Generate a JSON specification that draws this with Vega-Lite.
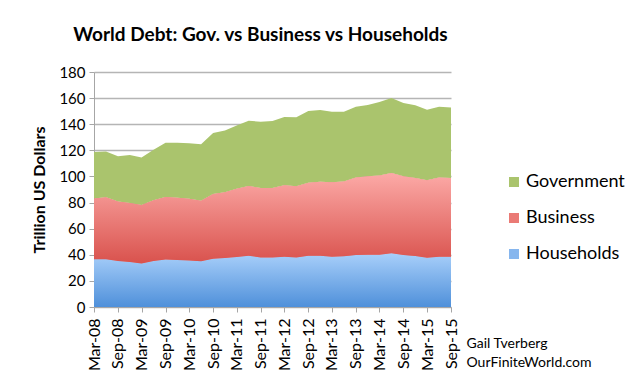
{
  "$schema": "https://vega.github.io/schema/vega-lite/v6.json",
  "width": 357,
  "height": 235,
  "autosize": "none",
  "padding": {"left": 94, "top": 72, "right": 189, "bottom": 78},
  "background": "white",
  "config": {
    "font": "Lato",
    "view": {"stroke": null},
    "axis": {"labelColor": "black", "titleColor": "black", "labelFont": "Lato", "titleFont": "Lato"}
  },
  "title": {
    "text": "World Debt: Gov. vs Business vs Households",
    "fontSize": 19,
    "fontWeight": "bold",
    "font": "Lato",
    "color": "black",
    "anchor": "middle",
    "dx": -12,
    "offset": 20
  },
  "data": {
    "values": [
      {"date": "2008-03", "Households": 36.5, "Business": 46.7, "Government": 35.5},
      {"date": "2008-06", "Households": 36.5, "Business": 47.5, "Government": 35.2},
      {"date": "2008-09", "Households": 35.2, "Business": 45.7, "Government": 34.5},
      {"date": "2008-12", "Households": 34.5, "Business": 45.2, "Government": 36.7},
      {"date": "2009-03", "Households": 33.4, "Business": 44.7, "Government": 36.5},
      {"date": "2009-06", "Households": 35.2, "Business": 46.5, "Government": 38.8},
      {"date": "2009-09", "Households": 36.3, "Business": 47.9, "Government": 41.7},
      {"date": "2009-12", "Households": 36.0, "Business": 47.7, "Government": 42.2},
      {"date": "2010-03", "Households": 35.7, "Business": 47.3, "Government": 42.4},
      {"date": "2010-06", "Households": 35.0, "Business": 46.4, "Government": 43.2},
      {"date": "2010-09", "Households": 37.0, "Business": 49.5, "Government": 46.8},
      {"date": "2010-12", "Households": 37.5, "Business": 50.3, "Government": 47.3},
      {"date": "2011-03", "Households": 38.3, "Business": 52.3, "Government": 48.5},
      {"date": "2011-06", "Households": 39.3, "Business": 53.4, "Government": 50.0},
      {"date": "2011-09", "Households": 38.0, "Business": 53.1, "Government": 50.8},
      {"date": "2011-12", "Households": 38.0, "Business": 53.1, "Government": 51.4},
      {"date": "2012-03", "Households": 38.5, "Business": 54.7, "Government": 52.3},
      {"date": "2012-06", "Households": 38.0, "Business": 54.4, "Government": 52.9},
      {"date": "2012-09", "Households": 39.3, "Business": 55.9, "Government": 54.9},
      {"date": "2012-12", "Households": 39.3, "Business": 56.7, "Government": 54.9},
      {"date": "2013-03", "Households": 38.5, "Business": 57.0, "Government": 54.1},
      {"date": "2013-06", "Households": 38.8, "Business": 57.4, "Government": 53.4},
      {"date": "2013-09", "Households": 39.8, "Business": 59.3, "Government": 54.3},
      {"date": "2013-12", "Households": 40.1, "Business": 60.0, "Government": 54.6},
      {"date": "2014-03", "Households": 40.1, "Business": 60.7, "Government": 56.2},
      {"date": "2014-06", "Households": 41.1, "Business": 61.5, "Government": 57.5},
      {"date": "2014-09", "Households": 39.8, "Business": 60.3, "Government": 56.1},
      {"date": "2014-12", "Households": 39.1, "Business": 59.7, "Government": 55.7},
      {"date": "2015-03", "Households": 37.8, "Business": 59.2, "Government": 54.1},
      {"date": "2015-06", "Households": 38.5, "Business": 60.6, "Government": 54.3},
      {"date": "2015-09", "Households": 38.5, "Business": 60.3, "Government": 54.1}
    ],
    "format": {"parse": {"date": "date:'%Y-%m'"}}
  },
  "transform": [
    {"fold": ["Households", "Business", "Government"], "as": ["series", "value"]},
    {"calculate": "indexof(['Households','Business','Government'], datum.series)", "as": "rank"},
    {"stack": "value", "groupby": ["date"], "sort": [{"field": "rank", "order": "ascending"}], "as": ["y0", "y1"]}
  ],
  "encoding": {
    "x": {
      "field": "date",
      "type": "temporal",
      "scale": {"nice": false},
      "axis": {
        "values": [
          {"year": 2008, "month": 3, "date": 1}, {"year": 2008, "month": 9, "date": 1},
          {"year": 2009, "month": 3, "date": 1}, {"year": 2009, "month": 9, "date": 1},
          {"year": 2010, "month": 3, "date": 1}, {"year": 2010, "month": 9, "date": 1},
          {"year": 2011, "month": 3, "date": 1}, {"year": 2011, "month": 9, "date": 1},
          {"year": 2012, "month": 3, "date": 1}, {"year": 2012, "month": 9, "date": 1},
          {"year": 2013, "month": 3, "date": 1}, {"year": 2013, "month": 9, "date": 1},
          {"year": 2014, "month": 3, "date": 1}, {"year": 2014, "month": 9, "date": 1},
          {"year": 2015, "month": 3, "date": 1}, {"year": 2015, "month": 9, "date": 1}
        ],
        "format": "%b-%y",
        "labelAngle": 270,
        "labelAlign": "right",
        "labelBaseline": "middle",
        "labelFontSize": 16,
        "labelPadding": 6,
        "labelOverlap": false,
        "labelFlush": false,
        "grid": false,
        "domainColor": "#a6a6a6",
        "tickColor": "#a6a6a6",
        "tickSize": 5,
        "title": ["Gail Tverberg", "OurFiniteWorld.com"],
        "titleFontSize": 14,
        "titleFontWeight": "normal",
        "titleAngle": 0,
        "titleAlign": "left",
        "titleBaseline": "top",
        "titleX": 372,
        "titleY": 29,
        "titleLineHeight": 19
      }
    },
    "y": {
      "field": "y1",
      "type": "quantitative",
      "scale": {"domain": [0, 180], "nice": false},
      "axis": {
        "values": [0, 20, 40, 60, 80, 100, 120, 140, 160, 180],
        "title": "Trillion US Dollars",
        "titleFontSize": 16,
        "titleFontWeight": "bold",
        "titlePadding": 11,
        "labelFontSize": 15,
        "labelPadding": 4,
        "domainColor": "#a6a6a6",
        "tickColor": "#a6a6a6",
        "tickSize": 5,
        "gridColor": "#b5b5b5",
        "gridWidth": 1.5
      }
    },
    "y2": {"field": "y0"}
  },
  "layer": [
    {
      "mark": {"type": "area"},
      "encoding": {
        "color": {
          "field": "series",
          "type": "nominal",
          "scale": {"domain": ["Government", "Business", "Households"], "range": ["#aac46d", "#ea7a75", "#86b6ee"]},
          "legend": {
            "title": null,
            "orient": "none",
            "legendX": 411,
            "legendY": 101,
            "symbolType": "square",
            "symbolSize": 100,
            "symbolStrokeWidth": 0,
            "labelFontSize": 18,
            "labelColor": "black",
            "labelFont": "Lato",
            "rowPadding": 18,
            "labelOffset": 3
          }
        }
      }
    },
    {
      "transform": [{"filter": "datum.series === 'Households'"}],
      "mark": {
        "type": "area",
        "fill": {"gradient": "linear", "x1": 0, "y1": 0, "x2": 0, "y2": 1,
          "stops": [{"offset": 0, "color": "#a8cffa"}, {"offset": 1, "color": "#4f90da"}]}
      }
    },
    {
      "transform": [{"filter": "datum.series === 'Business'"}],
      "mark": {
        "type": "area",
        "fill": {"gradient": "linear", "x1": 0, "y1": 0, "x2": 0, "y2": 1,
          "stops": [{"offset": 0, "color": "#fcaaa7"}, {"offset": 1, "color": "#d9524d"}]}
      }
    }
  ]
}
